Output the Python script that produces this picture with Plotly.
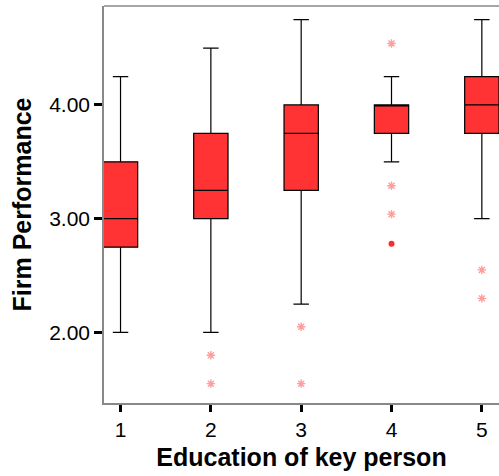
import plotly.graph_objects as go

# Education level groups and box statistics of firm performance
education = [1, 2, 3, 4, 5]
lower_fence = [2.00, 2.00, 2.25, 3.50, 3.00]
q1 = [2.75, 3.00, 3.25, 3.75, 3.75]
median = [3.00, 3.25, 3.75, 4.00, 4.00]
q3 = [3.50, 3.75, 4.00, 4.00, 4.25]
upper_fence = [4.25, 4.50, 4.75, 4.25, 4.75]

# Outlying cases per group
outlier_x = [2, 2, 3, 3, 4, 4, 4, 5, 5]
outlier_y = [1.80, 1.55, 2.05, 1.55, 4.54, 3.29, 3.04, 2.55, 2.30]
extreme_x = [4]
extreme_y = [2.78]

FONT = "Liberation Sans, Arial, sans-serif"

fig = go.Figure()
fig.add_trace(go.Box(
    x=education, q1=q1, median=median, q3=q3,
    lowerfence=lower_fence, upperfence=upper_fence,
    width=0.38, whiskerwidth=0.45,
    fillcolor="#ff3333",
    line=dict(color="black", width=1.2),
    boxpoints=False, showlegend=False, hoverinfo="skip",
))
fig.add_trace(go.Scatter(
    x=outlier_x, y=outlier_y, mode="markers",
    marker=dict(symbol="asterisk-open", size=7, color="rgba(255,90,90,0.6)",
                line=dict(width=1.4, color="rgba(255,90,90,0.6)")),
    showlegend=False, hoverinfo="skip",
))
fig.add_trace(go.Scatter(
    x=extreme_x, y=extreme_y, mode="markers",
    marker=dict(symbol="circle", size=6, color="#ff2a2a"),
    showlegend=False, hoverinfo="skip",
))

fig.update_layout(
    width=499, height=476,
    margin=dict(l=104, r=0, t=6, b=73),
    paper_bgcolor="white", plot_bgcolor="white",
    font=dict(family=FONT, color="black"),
    xaxis=dict(
        range=[0.817, 5.19], tickvals=education,
        ticktext=[str(v) for v in education],
        ticks="outside", ticklen=7, tickwidth=3, tickcolor="black",
        showline=True, linecolor="#888888", linewidth=1.5,
        showgrid=False, zeroline=False,
        tickfont=dict(size=21),
        title=dict(text="<b>Education of key person</b>", font=dict(size=25), standoff=9),
    ),
    yaxis=dict(
        range=[1.38, 4.87], tickvals=[2, 3, 4],
        ticktext=["2.00", "3.00", "4.00"],
        ticks="outside", ticklen=8, tickwidth=3, tickcolor="black",
        showline=True, linecolor="#888888", linewidth=1.5,
        showgrid=False, zeroline=False,
        tickfont=dict(size=21),
        title=dict(text="<b>Firm Performance</b>", font=dict(size=25), standoff=10),
    ),
    shapes=[dict(type="line", xref="paper", yref="paper", x0=0, x1=1, y0=1, y1=1,
                 line=dict(color="#888888", width=1.5))],
)

fig.write_html("out.html")
